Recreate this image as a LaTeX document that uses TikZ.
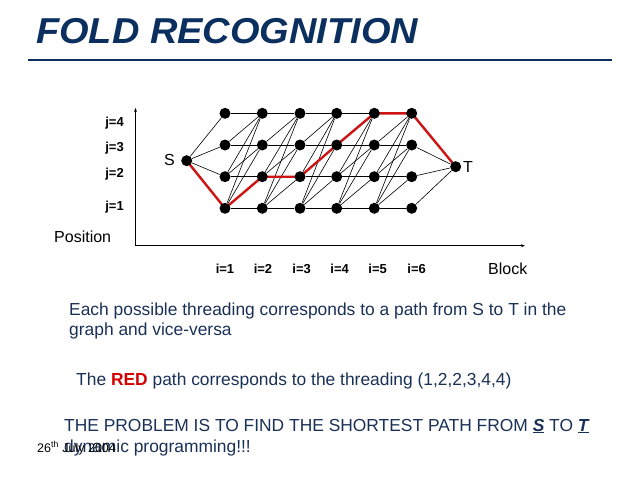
\documentclass[tikz,border=0pt]{standalone}
\usepackage{fontspec}
\setmainfont{Liberation Sans}
\usetikzlibrary{arrows.meta,backgrounds}
\definecolor{navy}{HTML}{0B2F5E}
\definecolor{bodyblue}{HTML}{1A3057}
\definecolor{redpath}{HTML}{CC1414}
\definecolor{redtext}{HTML}{D40000}
\begin{document}
\begin{tikzpicture}[x=1pt,y=-1pt,
  dot/.style={circle,fill=black,inner sep=0pt,minimum size=11pt},
  edge/.style={draw=black,line width=0.6pt},
  redline/.style={draw=redpath,line width=2.4pt,line join=round},
  axis/.style={draw=black,line width=0.9pt,-{Stealth[length=4pt,width=3pt]}},
  jlab/.style={font=\fontsize{13}{15}\selectfont\bfseries,inner sep=0pt},
  glab/.style={font=\fontsize{16}{18}\selectfont,inner sep=0pt},
  body/.style={font=\fontsize{17.4}{20}\selectfont,text=bodyblue,inner sep=0pt,anchor=base west}]
\useasboundingbox (0,0) rectangle (640,480);
% title
\node[anchor=base west,inner sep=0pt,text=navy,font=\fontsize{36}{40}\selectfont\bfseries\itshape] (title) at (36,43) {\scalebox{1.055}[1]{FOLD RECOGNITION}};
\coordinate (rl) at (28,60);
\coordinate (rr) at (612,60);
\draw[navy,line width=2pt] (rl) -- (rr);
% axes
\coordinate (origin) at (135.5,245.7);
\coordinate (ytop) at (135.5,108);
\coordinate (xend) at (525,245.7);
\draw[axis] (origin) -- (ytop);
\draw[axis] (origin) -- (xend);
% nodes
\node[dot] (S) at (186.7,160.7) {};
\node[dot] (T) at (455.7,166.7) {};
\foreach \i/\x in {1/225,2/262.3,3/300,4/336.7,5/374.3,6/411.7}
  \foreach \j/\y in {1/208.3,2/176.7,3/145,4/113.3}
    \node[dot] (n\i\j) at (\x,\y) {};
\begin{scope}[on background layer]
  \foreach \j in {1,...,4} {
    \draw[edge] (S) -- (n1\j);
    \draw[edge] (n6\j) -- (T);
  }
  \foreach \i in {1,...,5} {
    \pgfmathtruncatemacro{\ii}{\i+1}
    \foreach \j in {1,...,4} {
      \foreach \k in {\j,...,4} {
        \draw[edge] (n\i\j) -- (n\ii\k);
      }
    }
  }
  \draw[redline] (S.center) -- (n11.center) -- (n22.center) -- (n32.center) -- (n43.center) -- (n54.center) -- (n64.center) -- (T.center);
\end{scope}
% labels
\node[glab,anchor=east] (Slab) at (175,160) {S};
\node[glab,anchor=west] (Tlab) at (463,167) {T};
\node[jlab,anchor=base east] (j4) at (124,126.5) {j=4};
\node[jlab,anchor=base east] (j3) at (124,151.5) {j=3};
\node[jlab,anchor=base east] (j2) at (124,177.5) {j=2};
\node[jlab,anchor=base east] (j1) at (124,210.8) {j=1};
\node[glab,anchor=west] (pos) at (54,237) {Position};
\node[glab,anchor=west] (blk) at (488,269) {Block};
\foreach \i/\x in {1/225,2/263,3/301.7,4/339.7,5/377.7,6/416.7}
  \node[jlab,anchor=base] (i\i) at (\x,273) {i=\i};
% text
\node[body] (p1) at (69,315) {Each possible threading corresponds to a path from S to T in the};
\node[body] (p2) at (69,335) {graph and vice-versa};
\node[body] (p3) at (76,385) {The \textcolor{redtext}{\bfseries RED} path corresponds to the threading (1,2,2,3,4,4)};
\node[body] (p4) at (64,431) {THE PROBLEM IS TO FIND THE SHORTEST PATH FROM \underline{\bfseries\itshape S} TO \underline{\bfseries\itshape T}};
\node[body] (p5) at (64,452) {dynamic programming!!!};
\node[anchor=base west,inner sep=0pt,font=\fontsize{12.5}{14}\selectfont] (date) at (37,452) {26\textsuperscript{th} July 2004};
\end{tikzpicture}
\end{document}
